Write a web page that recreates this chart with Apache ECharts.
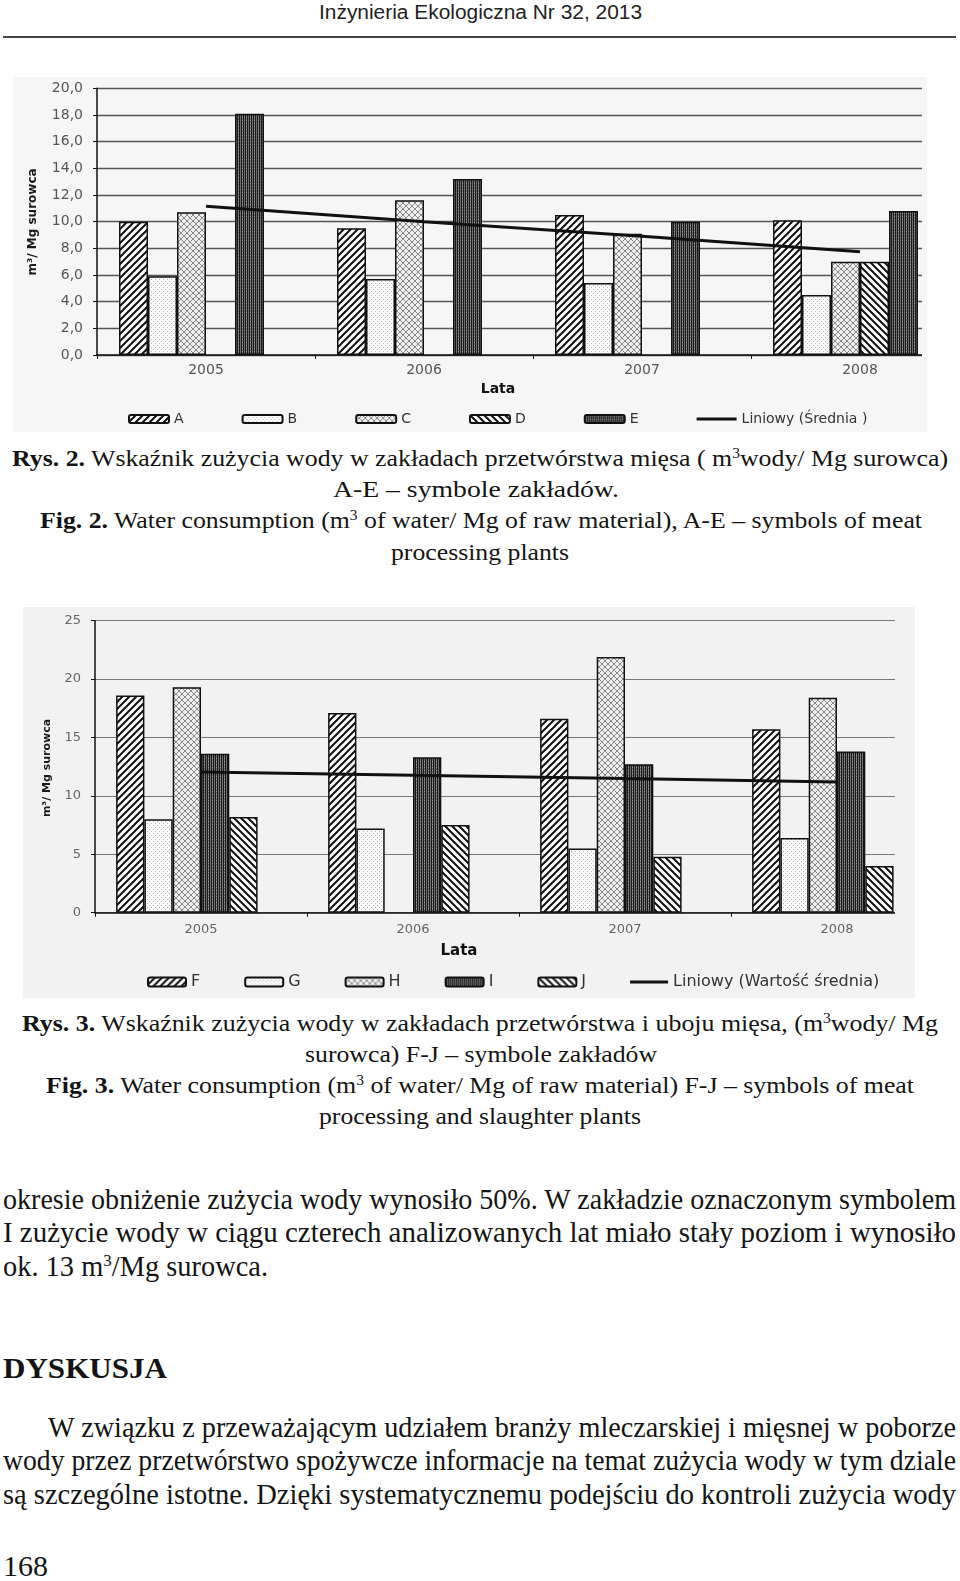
<!DOCTYPE html>
<html><head><meta charset="utf-8">
<script src="https://cdn.jsdelivr.net/npm/echarts@6/dist/echarts.min.js"></script>
<style>
html,body{margin:0;padding:0;background:#fff;width:960px;height:1581px;overflow:hidden;}
body{position:relative;}
.ln{position:absolute;left:0;top:0;white-space:nowrap;font-family:'Liberation Serif','Times New Roman',serif;color:#141414;line-height:1.15;transform-origin:0 50%;}
.cap{font-size:23px;}
.bd{font-size:29px;}
.hdr{font-family:'Liberation Sans Narrow','Arial Narrow','Liberation Sans',Arial,sans-serif;font-size:20px;color:#222;}
.s{font-size:0.6em;vertical-align:0.55em;line-height:0;}
#rule{position:absolute;left:3px;top:36px;width:953px;height:2px;background:#444;}
.box{position:absolute;overflow:hidden;}
.clip{position:absolute;left:0;top:0;overflow:hidden;}
</style></head><body>
<div class="ln hdr" data-x="319" data-y="12" data-w="323">Inżynieria Ekologiczna Nr 32, 2013</div>
<div id="rule"></div>

<div class="box" style="left:13px;top:77px;width:914px;height:355px;background:#f6f6f6;">
  <div class="clip" style="width:909px;height:355px;"><div id="c1" style="width:1000px;height:355px;"></div></div>
</div>

<div class="ln cap" data-x="12" data-y="459" data-w="936"><b>Rys. 2.</b> Wskaźnik zużycia wody w zakładach przetwórstwa mięsa ( m<span class="s">3</span>wody/ Mg surowca)</div>
<div class="ln cap" data-x="333" data-y="490" data-w="286">A-E – symbole zakładów.</div>
<div class="ln cap" data-x="40" data-y="521" data-w="882"><b>Fig. 2.</b> Water consumption (m<span class="s">3</span> of water/ Mg of raw material), A-E – symbols of meat</div>
<div class="ln cap" data-x="391" data-y="553" data-w="178">processing plants</div>

<div class="box" style="left:23px;top:607px;width:892px;height:391px;background:#f2f2f2;">
  <div class="clip" style="width:872px;height:391px;"><div id="c2" style="width:960px;height:391px;"></div></div>
</div>

<div class="ln cap" data-x="22" data-y="1024" data-w="916"><b>Rys. 3.</b> Wskaźnik zużycia wody w zakładach przetwórstwa i uboju mięsa, (m<span class="s">3</span>wody/ Mg</div>
<div class="ln cap" data-x="305" data-y="1055" data-w="352">surowca) F-J – symbole zakładów</div>
<div class="ln cap" data-x="46" data-y="1086" data-w="868"><b>Fig. 3.</b> Water consumption (m<span class="s">3</span> of water/ Mg of raw material) F-J – symbols of meat</div>
<div class="ln cap" data-x="319" data-y="1117" data-w="322">processing and slaughter plants</div>

<div class="ln bd" data-x="3" data-y="1200" data-w="953">okresie obniżenie zużycia wody wynosiło 50%. W zakładzie oznaczonym symbolem</div>
<div class="ln bd" data-x="3" data-y="1233" data-w="953">I zużycie wody w ciągu czterech analizowanych lat miało stały poziom i wynosiło</div>
<div class="ln bd" data-x="3" data-y="1267" data-w="265">ok. 13 m<span class="s">3</span>/Mg surowca.</div>
<div class="ln bd" data-x="3" data-y="1368" data-w="164" style="font-weight:bold;font-size:30px;">DYSKUSJA</div>
<div class="ln bd" data-x="48" data-y="1428" data-w="908">W związku z przeważającym udziałem branży mleczarskiej i mięsnej w poborze</div>
<div class="ln bd" data-x="3" data-y="1461" data-w="953">wody przez przetwórstwo spożywcze informacje na temat zużycia wody w tym dziale</div>
<div class="ln bd" data-x="3" data-y="1495" data-w="953">są szczególne istotne. Dzięki systematycznemu podejściu do kontroli zużycia wody</div>
<div class="ln bd" data-x="3" data-y="1567" data-w="45">168</div>

<script>
// ---------- DATA ----------
const years = ['2005', '2006', '2007', '2008'];

// Fig. 2 (plants A-E), m3 / Mg surowca
const plantsAE = ['A', 'B', 'C', 'D', 'E'];
const valA = [10.0, 9.5, 10.5, 10.1];
const valB = [5.9, 5.7, 5.4, 4.5];
const valC = [10.7, 11.6, 9.1, 7.0];
const valD = [null, null, null, 7.0];
const valE = [18.1, 13.2, 10.0, 10.8];
const trendAEName = 'Liniowy (Średnia )';
const trendAE = [11.15, 10.0, 8.9, 7.75];
const yAxis1 = { min: 0, max: 20, step: 2 };

// Fig. 3 (plants F-J)
const plantsFJ = ['F', 'G', 'H', 'I', 'J'];
const valF = [18.6, 17.1, 16.6, 15.7];
const valG = [8.0, 7.2, 5.5, 6.4];
const valH = [19.3, null, 21.9, 18.4];
const valI = [13.6, 13.3, 12.7, 13.8];
const valJ = [8.2, 7.5, 4.8, 4.0];
const trendFJName = 'Liniowy (Wartość średnia)';
const trendFJ = [12.05, 11.77, 11.48, 11.2];
const yAxis2 = { min: 0, max: 25, step: 5 };

// ---------- TEXT LINES ----------
document.querySelectorAll('.ln').forEach(el => {
  const r = el.getBoundingClientRect();
  el.style.left = el.dataset.x + 'px';
  el.style.top = (el.dataset.y - r.height / 2) + 'px';
  el.style.transform = 'scaleX(' + (el.dataset.w / r.width) + ')';
});

// ---------- PATTERNS ----------
function tile(w, h, draw) {
  const c = document.createElement('canvas'); c.width = w; c.height = h;
  draw(c.getContext('2d'), w, h); return c;
}
const PAT = {
  fwd: tile(7, 7, (g, w, h) => {
    g.fillStyle = '#fff'; g.fillRect(0, 0, w, h);
    g.strokeStyle = '#111'; g.lineWidth = 2; g.beginPath();
    g.moveTo(-1, h + 1); g.lineTo(w + 1, -1);
    g.moveTo(-1, 1); g.lineTo(1, -1);
    g.moveTo(w - 1, h + 1); g.lineTo(w + 1, h - 1);
    g.stroke();
  }),
  back: tile(7, 7, (g, w, h) => {
    g.fillStyle = '#fff'; g.fillRect(0, 0, w, h);
    g.strokeStyle = '#111'; g.lineWidth = 2; g.beginPath();
    g.moveTo(-1, -1); g.lineTo(w + 1, h + 1);
    g.moveTo(w - 1, -1); g.lineTo(w + 1, 1);
    g.moveTo(-1, h - 1); g.lineTo(1, h + 1);
    g.stroke();
  }),
  dots: tile(4, 4, (g, w, h) => {
    g.fillStyle = '#fbfbfb'; g.fillRect(0, 0, w, h);
    g.fillStyle = '#b4b4b4'; g.fillRect(0, 0, 1, 1); g.fillRect(2, 2, 1, 1);
  }),
  cross: tile(6, 6, (g, w, h) => {
    g.fillStyle = '#eeeeee'; g.fillRect(0, 0, w, h);
    g.strokeStyle = '#8a8a8a'; g.lineWidth = 1; g.beginPath();
    g.moveTo(0, 0); g.lineTo(w, h); g.moveTo(0, h); g.lineTo(w, 0);
    g.stroke();
  }),
  dark: tile(4, 3, (g, w, h) => {
    g.fillStyle = '#6e6e6e'; g.fillRect(0, 0, w, h);
    g.fillStyle = '#1a1a1a'; g.fillRect(0, 0, 1, h); g.fillRect(2, 0, 1, h);
    g.fillStyle = '#a0a0a0'; g.fillRect(1, 1, 1, 1);
  })
};

function buildOption(cfg) {
  const series = cfg.names.map((n, i) => ({
    name: n, type: 'bar', data: cfg.values[i], barWidth: cfg.barW, barGap: '0%',
    itemStyle: { color: { image: cfg.patterns[i], repeat: 'repeat' }, borderColor: '#111', borderWidth: 1.5 },
    emphasis: { disabled: true }
  }));
  // empty sixth slot of each group (hidden "average" column of the original)
  series.push({
    name: '_avg', type: 'bar', data: years.map(() => '-'), barWidth: cfg.barW, barGap: '0%',
    itemStyle: { color: 'rgba(0,0,0,0)' }, silent: true
  });
  series.push({
    name: cfg.trendName, type: 'line', data: cfg.trend, symbol: 'none', z: 5,
    lineStyle: { color: '#111', width: 3 }, itemStyle: { color: '#111' }
  });
  const lineIcon = 'path://M0,0H' + cfg.legend.iw + 'V3H0Z';
  return {
    animation: false,
    textStyle: { fontFamily: 'DejaVu Sans' },
    grid: cfg.grid,
    legend: {
      data: cfg.names.concat([{ name: cfg.trendName, icon: lineIcon, itemStyle: { color: '#111', borderWidth: 0 } }]),
      left: cfg.legend.left, top: cfg.legend.top, padding: 0,
      itemWidth: cfg.legend.iw, itemHeight: cfg.legend.ih, itemGap: cfg.legend.gap,
      textStyle: { fontFamily: 'DejaVu Sans', fontSize: cfg.legend.fs, color: '#333' },
      selectedMode: false
    },
    xAxis: {
      type: 'category', data: years, boundaryGap: true,
      axisLine: { lineStyle: { color: '#111', width: 1.5 } },
      axisTick: { show: true, length: 4, interval: 0, lineStyle: { color: '#111' } },
      axisLabel: { fontSize: cfg.xFs, color: cfg.labelColor, margin: cfg.xMargin, fontFamily: 'DejaVu Sans' },
      splitLine: { show: false }
    },
    yAxis: {
      type: 'value', min: cfg.y.min, max: cfg.y.max, interval: cfg.y.step,
      axisLine: { show: true, lineStyle: { color: '#111', width: 1.5 } },
      axisTick: { show: true, length: 4, lineStyle: { color: '#111' } },
      axisLabel: { fontSize: cfg.yFs, color: cfg.labelColor, margin: 14, formatter: cfg.fmt, fontFamily: 'DejaVu Sans' },
      splitLine: { lineStyle: { color: cfg.gridColor, width: cfg.gridW } }
    },
    graphic: [
      { type: 'text', x: cfg.ytitle.x, y: cfg.ytitle.y, rotation: Math.PI / 2,
        style: { text: 'm³/ Mg surowca', font: cfg.ytitle.font, fill: '#1a1a1a', align: 'center', verticalAlign: 'middle', textAlign: 'center', textVerticalAlign: 'middle' } },
      { type: 'text', x: cfg.xtitle.x, y: cfg.xtitle.y,
        style: { text: 'Lata', font: cfg.xtitle.font, fill: '#111', align: 'center', verticalAlign: 'middle', textAlign: 'center', textVerticalAlign: 'middle' } }
    ],
    series: series
  };
}

const c1 = echarts.init(document.getElementById('c1'), null, { renderer: 'canvas' });
c1.setOption(buildOption({
  names: plantsAE, values: [valA, valB, valC, valD, valE],
  patterns: [PAT.fwd, PAT.dots, PAT.cross, PAT.back, PAT.dark],
  trendName: trendAEName, trend: trendAE, barW: 29,
  grid: { left: 84, top: 11.3, width: 872, height: 266.7 },
  legend: { left: 115, top: 335, iw: 40, ih: 8, gap: 58, fs: 14 },
  y: yAxis1, fmt: v => v.toFixed(1).replace('.', ','), yFs: 14, xFs: 14,
  labelColor: '#555', xMargin: 8, gridColor: '#555', gridW: 1.4,
  ytitle: { x: 20, y: 145, font: 'bold 12px "DejaVu Sans"' },
  xtitle: { x: 485, y: 312, font: 'bold 14px "DejaVu Sans"' }
}));

const c2 = echarts.init(document.getElementById('c2'), null, { renderer: 'canvas' });
c2.setOption(buildOption({
  names: plantsFJ, values: [valF, valG, valH, valI, valJ],
  patterns: [PAT.fwd, PAT.dots, PAT.cross, PAT.dark, PAT.back],
  trendName: trendFJName, trend: trendFJ, barW: 28.3,
  grid: { left: 72, top: 13.7, width: 848, height: 292 },
  legend: { left: 124, top: 367, iw: 38, ih: 9, gap: 44, fs: 16 },
  y: yAxis2, fmt: v => String(v), yFs: 13, xFs: 13,
  labelColor: '#666', xMargin: 10, gridColor: '#777', gridW: 1.1,
  ytitle: { x: 24, y: 161, font: 'bold 11px "DejaVu Sans"' },
  xtitle: { x: 436, y: 344, font: 'bold 15px "DejaVu Sans"' }
}));
</script>
</body></html>
